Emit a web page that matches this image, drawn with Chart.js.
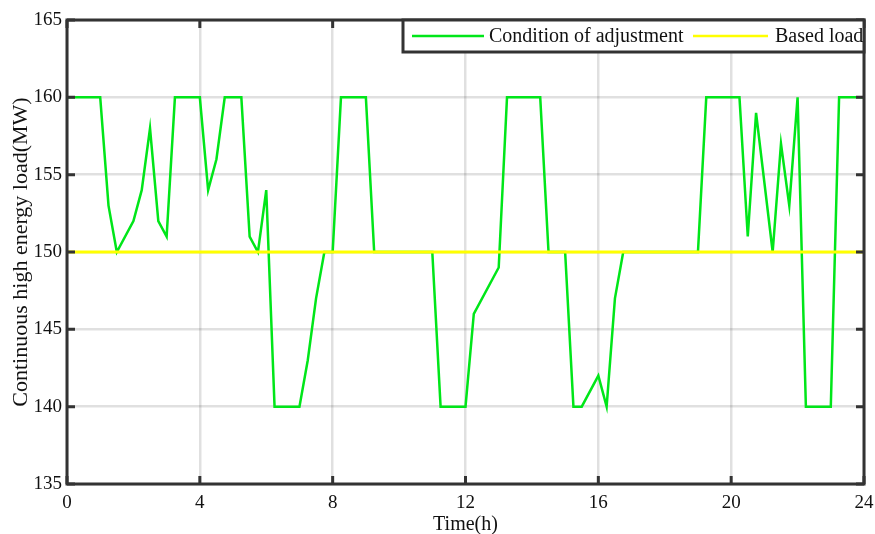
<!DOCTYPE html>
<html lang="en">
<head>
    <meta charset="UTF-8">
    <title>Continuous high energy load</title>
    <script src="https://cdn.jsdelivr.net/npm/chart.js"></script>
    <style>
        body {
            margin: 0;
            background: #fff;
        }

        #wrap {
            width: 875px;
            height: 534px;
            position: relative;
        }
    </style>
</head>
<body>
    <div id="wrap"><canvas id="chart"></canvas></div>

    <script>
        // vertices of the adjusted load curve (hour, MW)
        const adjTime = [0, 1, 1.25, 1.5, 2, 2.25, 2.5, 2.75, 3, 3.25, 4, 4.25, 4.5, 4.75, 5.25, 5.5, 5.75, 6,
            6.25, 7, 7.25, 7.5, 7.75, 8, 8.25, 9, 9.25, 11, 11.25, 12, 12.25, 13, 13.25, 14.25, 14.5, 15,
            15.25, 15.5, 16, 16.25, 16.5, 16.75, 19, 19.25, 20.25, 20.5, 20.75, 21.25, 21.5, 21.75, 22,
            22.25, 23, 23.25, 24];
        const adjLoad = [160, 160, 153, 150, 152, 154, 158, 152, 151, 160, 160, 154, 156, 160, 160, 151, 150, 154,
            140, 140, 143, 147, 150, 150, 160, 160, 150, 150, 140, 140, 146, 149, 160, 160, 150, 150,
            140, 140, 142, 140, 147, 150, 150, 160, 160, 151, 159, 150, 157, 153, 160,
            140, 140, 160, 160];

        const baseTime = [0, 24];
        const baseLoad = [150, 150];

        const xTicks = [0, 4, 8, 12, 16, 20, 24];
        const yTicks = [135, 140, 145, 150, 155, 160, 165];

        const seriesNames = ["Condition of adjustment", "Based load"];
        const green = "#00e619";
        const yellow = "#ffff00";
        const axisColor = "#333333";
        const serif = "'Liberation Serif', 'Times New Roman', serif";

        function toPoints(xs, ys) {
            return xs.map((x, i) => ({ x: x, y: ys[i] }));
        }

        // box round the plot, inward ticks, legend box
        const framePlugin = {
            id: "frame",
            afterDraw(chart) {
                const ctx = chart.ctx;
                const a = chart.chartArea;
                const xs = chart.scales.x;
                const ys = chart.scales.y;
                const tick = 8;

                ctx.save();
                ctx.strokeStyle = axisColor;
                ctx.lineWidth = 3;
                ctx.beginPath();
                xTicks.forEach(v => {
                    const px = xs.getPixelForValue(v);
                    ctx.moveTo(px, a.bottom);
                    ctx.lineTo(px, a.bottom - tick);
                    ctx.moveTo(px, a.top);
                    ctx.lineTo(px, a.top + tick);
                });
                yTicks.forEach(v => {
                    const py = ys.getPixelForValue(v);
                    ctx.moveTo(a.left, py);
                    ctx.lineTo(a.left + tick, py);
                    ctx.moveTo(a.right, py);
                    ctx.lineTo(a.right - tick, py);
                });
                ctx.stroke();
                ctx.strokeRect(a.left, a.top, a.right - a.left, a.bottom - a.top);

                // legend
                const lx = a.right - 461, ly = a.top, lw = 461, lh = 32;
                ctx.fillStyle = "#fff";
                ctx.fillRect(lx, ly, lw, lh);
                ctx.strokeRect(lx, ly, lw, lh);

                const midY = ly + lh / 2;
                ctx.lineWidth = 2.5;
                ctx.strokeStyle = green;
                ctx.beginPath();
                ctx.moveTo(lx + 9, midY);
                ctx.lineTo(lx + 81, midY);
                ctx.stroke();
                ctx.strokeStyle = yellow;
                ctx.beginPath();
                ctx.moveTo(lx + 290, midY);
                ctx.lineTo(lx + 365, midY);
                ctx.stroke();

                ctx.fillStyle = "#111";
                ctx.font = "20px " + serif;
                ctx.textBaseline = "middle";
                ctx.fillText(seriesNames[0], lx + 86, midY + 1);
                ctx.fillText(seriesNames[1], lx + 372, midY + 1);
                ctx.restore();
            }
        };

        new Chart(document.getElementById("chart"), {
            type: "line",
            data: {
                datasets: [
                    {
                        label: seriesNames[0],
                        data: toPoints(adjTime, adjLoad),
                        borderColor: green,
                        borderWidth: 2.5,
                        pointRadius: 0,
                        tension: 0,
                        order: 2
                    },
                    {
                        label: seriesNames[1],
                        data: toPoints(baseTime, baseLoad),
                        borderColor: yellow,
                        borderWidth: 3.2,
                        pointRadius: 0,
                        tension: 0,
                        order: 1
                    }
                ]
            },
            options: {
                responsive: true,
                maintainAspectRatio: false,
                animation: false,
                layout: { padding: { top: 20, right: 11, left: 0, bottom: 0 } },
                plugins: {
                    legend: { display: false },
                    tooltip: { enabled: false }
                },
                scales: {
                    x: {
                        type: "linear",
                        min: 0,
                        max: 24,
                        afterBuildTicks(scale) {
                            scale.ticks = xTicks.map(v => ({ value: v }));
                        },
                        afterFit(scale) {
                            scale.height = 50;
                            scale.paddingLeft = 0;
                            scale.paddingRight = 0;
                        },
                        grid: { color: "rgba(0,0,0,0.12)", lineWidth: 2.5, drawTicks: false },
                        border: { display: false },
                        ticks: { color: "#111", padding: 8, maxRotation: 0, font: { family: serif, size: 19 } },
                        title: {
                            display: true,
                            text: "Time(h)",
                            color: "#111",
                            padding: { top: 0, bottom: -3 },
                            font: { family: serif, size: 20 }
                        }
                    },
                    y: {
                        min: 135,
                        max: 165,
                        afterBuildTicks(scale) {
                            scale.ticks = yTicks.map(v => ({ value: v }));
                        },
                        afterFit(scale) {
                            scale.width = 67;
                            scale.paddingTop = 0;
                            scale.paddingBottom = 0;
                        },
                        grid: { color: "rgba(0,0,0,0.12)", lineWidth: 2.5, drawTicks: false },
                        border: { display: false },
                        ticks: { color: "#111", padding: 5, font: { family: serif, size: 19 } },
                        title: {
                            display: true,
                            text: "Continuous high energy load(MW)",
                            color: "#111",
                            padding: { top: 8, bottom: 0 },
                            font: { family: serif, size: 22 }
                        }
                    }
                }
            },
            plugins: [framePlugin]
        });
    </script>
</body>
</html>
